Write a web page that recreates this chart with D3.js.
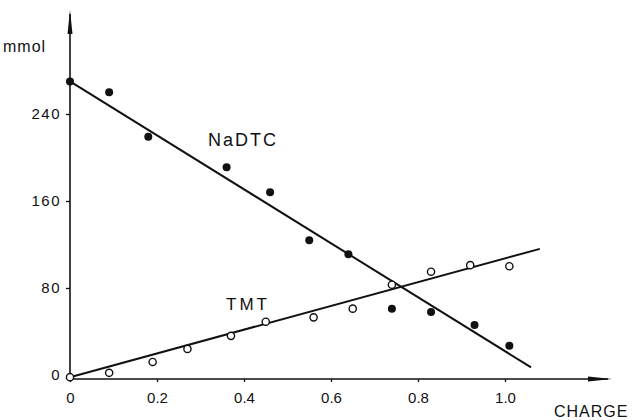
<!DOCTYPE html>
<html>
<head>
<meta charset="utf-8">
<script src="https://cdn.jsdelivr.net/npm/d3@7"></script>
<style>
  body { margin: 0; background: #fff; }
  text { font-family: "Liberation Sans", Arial, sans-serif; fill: #111; }
</style>
</head>
<body>
<div id="chart"></div>
<script>
// Charge plot: NaDTC vs TMT //////////////////////////////////////////////////

var charge  = [0, 0.09, 0.18, 0.36, 0.46, 0.55, 0.64, 0.74, 0.83, 0.93, 1.01];
var nadtc   = [270, 260, 219, 191, 168, 124, 111, 61, 58, 46, 27];

var chargeT = [0, 0.09, 0.19, 0.27, 0.37, 0.45, 0.56, 0.65, 0.74, 0.83, 0.92, 1.01];
var tmt     = [-2, 2, 12, 24, 36, 49, 53, 61, 83, 95, 101, 100];

var nadtcFit = [[0, 270], [1.06, 7]];
var tmtFit   = [[0, -2], [1.08, 116]];

var xTicks = [0, 0.2, 0.4, 0.6, 0.8, 1.0];
var yTicks = [0, 80, 160, 240];

///////////////////////////////////////////////////////////////////////////////

var width = 636, height = 420;

var svg = d3.select('#chart').append('svg')
  .attr('width', width)
  .attr('height', height);

var x = d3.scaleLinear().domain([0, 1]).range([70, 505]);
var y = d3.scaleLinear().domain([0, 240]).range([375, 114]);

var axisY = 379;

// axis lines with arrows
svg.append('line')
  .attr('x1', x(0)).attr('x2', x(0))
  .attr('y1', axisY).attr('y2', 14)
  .style('stroke', '#111').style('stroke-width', 1.6);
svg.append('path')
  .attr('d', 'M' + x(0) + ',10 L' + (x(0) - 2.5) + ',34 L' + (x(0) + 2.5) + ',34 Z')
  .style('fill', '#111');

svg.append('line')
  .attr('x1', x(0)).attr('x2', 608)
  .attr('y1', axisY).attr('y2', axisY)
  .style('stroke', '#111').style('stroke-width', 1.6);
svg.append('path')
  .attr('d', 'M612,' + axisY + ' L588,' + (axisY - 2.5) + ' L588,' + (axisY + 2.5) + ' Z')
  .style('fill', '#111');

// ticks
var gy = svg.append('g')
  .attr('transform', 'translate(' + x(0) + ',0)')
  .call(d3.axisLeft(y).tickValues(yTicks).tickSize(4).tickPadding(5)
    .tickFormat(d3.format('d')));
gy.select('.domain').remove();
gy.selectAll('.tick text').style('letter-spacing', '1.5px');

var gx = svg.append('g')
  .attr('transform', 'translate(0,' + axisY + ')')
  .call(d3.axisBottom(x).tickValues(xTicks).tickSize(3).tickPadding(10)
    .tickFormat(function(d){ return d === 0 ? '0' : d3.format('.1f')(d); }));
gx.select('.domain').remove();

svg.selectAll('.tick line').style('stroke', '#111').style('stroke-width', 1.3);
svg.selectAll('.tick text')
  .style('font-family', '"Liberation Sans", Arial, sans-serif')
  .style('font-size', '15px')
  .style('fill', '#111');

// axis titles
svg.append('text')
  .attr('x', 3).attr('y', 52)
  .style('font-size', '16px')
  .style('letter-spacing', '1px')
  .text('mmol');

svg.append('text')
  .attr('x', 554).attr('y', 417)
  .style('font-size', '16px')
  .style('letter-spacing', '1px')
  .text('CHARGE');

// fit lines
var line = d3.line()
  .x(function(d){ return x(d[0]); })
  .y(function(d){ return y(d[1]); });

svg.append('path').datum(nadtcFit)
  .attr('d', line)
  .style('fill', 'none').style('stroke', '#111').style('stroke-width', 2);

svg.append('path').datum(tmtFit)
  .attr('d', line)
  .style('fill', 'none').style('stroke', '#111').style('stroke-width', 2);

// points
svg.append('g').selectAll('circle')
  .data(charge)
  .enter().append('circle')
  .attr('cx', function(d){ return x(d); })
  .attr('cy', function(d, i){ return y(nadtc[i]); })
  .attr('r', 4)
  .style('fill', '#111');

svg.append('g').selectAll('circle')
  .data(chargeT)
  .enter().append('circle')
  .attr('cx', function(d){ return x(d); })
  .attr('cy', function(d, i){ return y(tmt[i]); })
  .attr('r', 3.6)
  .style('fill', '#fff')
  .style('stroke', '#111')
  .style('stroke-width', 1.4);

// series labels
svg.append('text')
  .attr('x', 208).attr('y', 146)
  .style('font-size', '18px')
  .style('letter-spacing', '2px')
  .text('NaDTC');

svg.append('text')
  .attr('x', 226).attr('y', 310)
  .style('font-size', '17px')
  .style('letter-spacing', '3px')
  .text('TMT');
</script>
</body>
</html>
